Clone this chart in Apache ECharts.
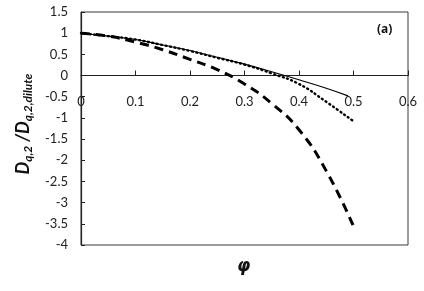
<!DOCTYPE html>
<html><head><meta charset="utf-8">
<script src="https://cdn.jsdelivr.net/npm/echarts@6/dist/echarts.min.js"></script>
<style>html,body{margin:0;padding:0;background:#fff}#c{width:424px;height:291px}</style>
</head><body><div id="c"></div>
<script>
const phi = [0, 0.05, 0.1, 0.15, 0.2, 0.25, 0.3, 0.35, 0.4, 0.45, 0.5];
const solidPhi = [0, 0.05, 0.1, 0.15, 0.2, 0.25, 0.3, 0.35, 0.4, 0.45, 0.49];
const solidVals = [1, 0.93, 0.85, 0.72, 0.59, 0.43, 0.27, 0.09, -0.1, -0.3, -0.48];
const dottedVals = [1, 0.93, 0.85, 0.72, 0.58, 0.42, 0.26, 0.05, -0.2, -0.62, -1.08];
const dashedVals = [1, 0.93, 0.79, 0.61, 0.38, 0.14, -0.2, -0.66, -1.28, -2.25, -3.56];
const xTicks = [0, 0.1, 0.2, 0.3, 0.4, 0.5, 0.6];
const yTicks = [-4, -3.5, -3, -2.5, -2, -1.5, -1, -0.5, 0, 0.5, 1, 1.5];

const pairs = (xs, ys) => xs.map((x, i) => [x, ys[i]]);
const font = 'Lato, "Open Sans", sans-serif';
const gridTop = 12, gridBottom = 46, H = 291;
const yMin = yTicks[0], yMax = yTicks[yTicks.length - 1];
const plotH = H - gridTop - gridBottom;
// place the x axis on the y=0 line (offset from bottom edge of the grid)
const zeroOffset = -plotH * (0 - yMin) / (yMax - yMin);

const chart = echarts.init(document.getElementById('c'), null, {renderer: 'canvas'});
chart.setOption({
  animation: false,
  backgroundColor: '#fff',
  grid: {left: 81, right: 16, top: gridTop, bottom: gridBottom, show: true, borderColor: '#3a3a3a', borderWidth: 1, backgroundColor: 'transparent'},
  xAxis: {
    type: 'value', min: xTicks[0], max: xTicks[xTicks.length - 1], interval: 0.1,
    position: 'bottom', offset: zeroOffset,
    axisLine: {onZero: false, lineStyle: {color: '#222', width: 1.2}},
    axisTick: {inside: true, length: 5, lineStyle: {color: '#222'}},
    splitLine: {show: false},
    axisLabel: {fontFamily: font, fontSize: 13, color: '#222', margin: 20,
      formatter: v => String(Math.round(v * 10) / 10)}
  },
  yAxis: {
    type: 'value', min: yMin, max: yMax, interval: 0.5,
    axisLine: {show: true, onZero: false, lineStyle: {color: '#222', width: 1.2}},
    axisTick: {show: true, inside: true, length: 4, lineStyle: {color: '#222'}},
    splitLine: {show: false},
    axisLabel: {fontFamily: font, fontSize: 13, color: '#222', margin: 13,
      formatter: v => String(Math.round(v * 10) / 10)}
  },
  graphic: [
    {type: 'text', left: 377, top: 24, style: {text: '(a)', font: 'bold 12px "Open Sans", sans-serif', fill: '#111'}},
    {type: 'text', left: 237, top: 258, style: {text: 'φ', font: 'italic bold 17px "DejaVu Sans", sans-serif', fill: '#111'}},
    {type: 'text', x: 24, y: 124, rotation: Math.PI / 2, style: {
      text: '{b|D}{s|q,2}{b| /D}{s|q,2,dilute}',
      align: 'center', verticalAlign: 'middle',
      rich: {
        b: {font: 'italic bold 18px ' + font, fill: '#111', lineHeight: 20, verticalAlign: 'top'},
        s: {font: 'italic bold 12px ' + font, fill: '#111', lineHeight: 10, verticalAlign: 'bottom'}
      }
    }}
  ],
  series: [
    {type: 'line', data: pairs(solidPhi, solidVals), smooth: true, symbol: 'none',
      lineStyle: {color: '#000', width: 1.1, type: 'solid'}},
    {type: 'line', data: pairs(phi, dottedVals), smooth: true, symbol: 'none',
      lineStyle: {color: '#000', width: 2.4, type: [1, 3.5], cap: 'round'}},
    {type: 'line', data: pairs(phi, dashedVals), smooth: true, symbol: 'none',
      lineStyle: {color: '#000', width: 3, type: [9, 6]}}
  ]
});
</script></body></html>
